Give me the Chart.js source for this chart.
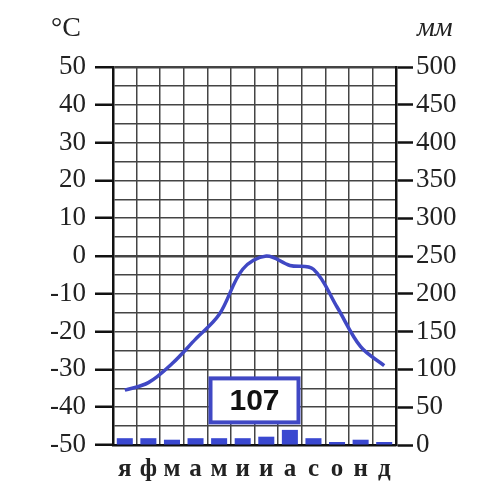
<!DOCTYPE html>
<html>
<head>
<meta charset="utf-8">
<script src="https://cdn.jsdelivr.net/npm/chart.js@4"></script>
<style>
  body { margin: 0; background: #fff; }
  #wrap { width: 500px; height: 491px; position: relative; }
</style>
</head>
<body>
<div id="wrap"><canvas id="climate"></canvas></div>
<script>
// Climate diagram data
const months = ["я", "ф", "м", "а", "м", "и", "и", "а", "с", "о", "н", "д"];
const temperature = [-35.5, -33.5, -28.5, -22, -15.5, -3.5, 0, -2.5, -3.5, -13.5, -24, -29];
const precipitation = [9, 9, 7, 9, 9, 9, 11, 20, 9, 4, 7, 4];
const totalPrecip = "107";

const serif = "'Liberation Serif', 'Times New Roman', serif";
const blue = "#4048c4";

// extra text: axis units and the yearly total box
const extras = {
  id: "extras",
  afterDraw(chart) {
    const c = chart.ctx;
    const x = chart.scales.x, y = chart.scales.y;
    c.save();
    c.fillStyle = "#222";
    c.font = "28px " + serif;
    c.textBaseline = "alphabetic";
    c.textAlign = "left";
    c.fillText("°C", 51, 36);
    c.font = "italic 28px " + serif;
    c.fillText("мм", 417, 36);

    // total box
    const cx = (x.getPixelForValue(5) + x.getPixelForValue(6)) / 2;
    const cy = y.getPixelForValue(-38.2);
    c.fillStyle = "#fff";
    c.fillRect(cx - 44, cy - 22, 88, 44);
    c.strokeStyle = blue;
    c.lineWidth = 4;
    c.strokeRect(cx - 44, cy - 22, 88, 44);
    c.fillStyle = "#111";
    c.font = "bold 30px 'Liberation Sans', Arial, sans-serif";
    c.textAlign = "center";
    c.textBaseline = "middle";
    c.fillText(totalPrecip, cx, cy + 1);
    c.restore();
  }
};

new Chart(document.getElementById("climate"), {
  type: "bar",
  data: {
    labels: months,
    datasets: [
      {
        type: "line",
        data: temperature,
        yAxisID: "y",
        borderColor: blue,
        borderWidth: 3.5,
        pointRadius: 0,
        tension: 0.35,
        fill: false
      },
      {
        type: "bar",
        data: precipitation,
        yAxisID: "y1",
        backgroundColor: "#3a48d0",
        barPercentage: 0.68,
        categoryPercentage: 1
      }
    ]
  },
  options: {
    responsive: true,
    maintainAspectRatio: false,
    animation: false,
    events: [],
    layout: { padding: { top: 67, left: 0, right: 0, bottom: 0 } },
    plugins: {
      legend: { display: false },
      tooltip: { enabled: false }
    },
    scales: {
      x: {
        offset: true,
        grid: { offset: true, color: "#444", lineWidth: 1.5, drawTicks: false },
        border: { color: "#111", width: 2.5 },
        ticks: {
          autoSkip: false,
          maxRotation: 0,
          minRotation: 0,
          color: "#222",
          padding: 10,
          font: { family: serif, size: 25, weight: "bold" }
        },
        afterFit(s) { s.height = 46; }
      },
      y: {
        position: "left",
        min: -50,
        max: 50,
        grid: {
          color: "#444",
          lineWidth: ctx => (ctx.tick && (ctx.tick.value === 0 || ctx.tick.value === 50)) ? 2.5 : 1.5,
          tickLength: 18,
          tickColor: ctx => (ctx.tick && ctx.tick.value % 10 === 0) ? "#111" : "transparent",
          tickWidth: 2.5
        },
        border: { color: "#111", width: 2.5 },
        ticks: {
          stepSize: 5,
          autoSkip: false,
          padding: 9,
          color: "#222",
          font: { family: serif, size: 27 },
          callback: v => (v % 10 === 0 ? String(v) : "")
        },
        afterFit(s) { s.width = 113; }
      },
      y1: {
        position: "right",
        min: 0,
        max: 500,
        grid: {
          drawOnChartArea: false,
          tickLength: 17,
          tickColor: "#111",
          tickWidth: 2.5
        },
        border: { color: "#111", width: 2.5 },
        ticks: {
          stepSize: 50,
          autoSkip: false,
          padding: 3,
          color: "#222",
          font: { family: serif, size: 27 }
        },
        afterFit(s) { s.width = 104; }
      }
    }
  },
  plugins: [extras]
});
</script>
</body>
</html>
